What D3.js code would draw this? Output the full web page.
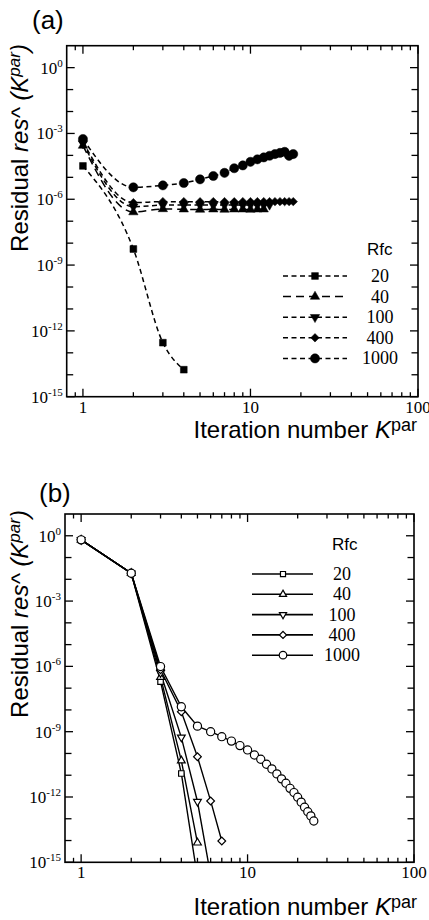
<!DOCTYPE html>
<html>
<head>
<meta charset="utf-8">
<script src="https://cdn.jsdelivr.net/npm/d3@7"></script>
<style>
  body { margin: 0; background: #fff; }
  svg { display: block; }
</style>
</head>
<body>
<svg id="chart" width="429" height="920"></svg>
<script>
// Residual vs. iteration number
const rfcLabels = ["20", "40", "100", "400", "1000"];
const xTickLabels = ["1", "10", "100"];
const yTickExps = ["0", "-3", "-6", "-9", "-12", "-15"];

// panel (a): dashed lines, filled markers
const aIter20 = [1, 2, 3, 4];
const aRes20 = [3.3e-5, 5.4e-9, 2.9e-13, 1.7e-14];
const aIter40 = [1, 2, 3, 4, 5, 6, 7, 8, 9, 10, 11, 12];
const aRes40 = [2.8e-4, 2.6e-7, 3.6e-7, 3.5e-7, 3.4e-7, 3.5e-7, 3.4e-7, 3.5e-7, 3.5e-7, 3.4e-7, 3.5e-7, 3.5e-7];
const aIter100 = [1, 2, 3, 4, 5, 6, 7, 8, 9, 10, 11, 12, 13];
const aRes100 = [3.5e-4, 4.6e-7, 5.4e-7, 5.5e-7, 5.5e-7, 5.4e-7, 5.5e-7, 5.5e-7, 5.4e-7, 5.5e-7, 5.5e-7, 5.5e-7, 5.6e-7];
const aIter400 = [1, 2, 3, 4, 5, 6, 7, 8, 9, 10, 11, 12, 13, 14, 15, 16, 17, 18];
const aRes400 = [4.2e-4, 7.0e-7, 7.8e-7, 7.8e-7, 7.7e-7, 7.8e-7, 7.8e-7, 7.7e-7, 7.8e-7, 7.8e-7, 7.8e-7, 7.8e-7, 7.8e-7, 7.8e-7, 7.8e-7, 7.8e-7, 7.8e-7, 7.8e-7];
const aIter1000 = [1, 2, 3, 4, 5, 6, 7, 8, 9, 10, 11, 12, 13, 14, 15, 16, 17, 18];
const aRes1000 = [5.6e-4, 3.5e-6, 4.3e-6, 5.5e-6, 8.1e-6, 1.15e-5, 1.6e-5, 2.6e-5, 3.5e-5, 5.1e-5, 6.6e-5, 8.1e-5, 9.6e-5, 1.15e-4, 1.3e-4, 1.45e-4, 9.5e-5, 1.15e-4];

// panel (b): solid lines, open markers
const bIter20 = [1, 2, 3, 4, 5];
const bRes20 = [0.65, 0.019, 2.0e-7, 1.2e-11, 2.0e-16];
const bIter40 = [1, 2, 3, 4, 5];
const bRes40 = [0.65, 0.019, 3.2e-7, 4.7e-11, 7.9e-15];
const bIter100 = [1, 2, 3, 4, 5, 6];
const bRes100 = [0.65, 0.019, 5.0e-7, 5.5e-10, 6.2e-13, 2.5e-16];
const bIter400 = [1, 2, 3, 4, 5, 6, 7];
const bRes400 = [0.65, 0.019, 7.0e-7, 8.3e-9, 7.0e-11, 6.6e-13, 9.5e-15];
const bIter1000 = [1, 2, 3, 4, 5, 6, 7, 8, 9, 10, 11, 12, 13, 14, 15, 16, 17, 18, 19, 20, 21, 22, 23, 24, 25];
const bRes1000 = [0.65, 0.019, 9.8e-7, 1.4e-8, 1.8e-9, 1.0e-9, 5.9e-10, 3.7e-10, 2.3e-10, 1.45e-10, 8.5e-11, 5.4e-11,
  3.2e-11, 1.95e-11, 1.15e-11, 6.8e-12, 4.3e-12, 2.5e-12, 1.6e-12, 9.8e-13, 5.8e-13, 3.4e-13, 2.1e-13, 1.35e-13, 7.9e-14];

const symbols = ["square", "triangle", "triangleDown", "diamond", "circle"];

const svg = d3.select("#chart");
svg.append("rect").attr("width", 429).attr("height", 920).attr("fill", "#fff");

const sans = "'Liberation Sans', Arial, sans-serif";
const serif = "'Liberation Serif', 'Times New Roman', serif";

function markerPath(kind, size) {
  if (kind === "circle") return d3.symbol(d3.symbolCircle, size)();
  if (kind === "square" || kind === "diamond") return d3.symbol(d3.symbolSquare, size)();
  return d3.symbol(d3.symbolTriangle, size)();
}
function markerRotate(kind) {
  if (kind === "diamond") return 45;
  if (kind === "triangleDown") return 180;
  return 0;
}
const markerSize = {
  filled: { square: 46, triangle: 38, triangleDown: 38, diamond: 36, circle: 66 },
  open: { square: 30, triangle: 26, triangleDown: 26, diamond: 30, circle: 52 }
};

function drawPanel(cfg) {
  const g = svg.append("g");
  const x = d3.scaleLog().domain([0.8, 100]).range([cfg.left, cfg.right]);
  const y = d3.scaleLog().domain([1e-15, 10]).range([cfg.bottom, cfg.top]);

  const clipId = "clip-" + cfg.name;
  svg.append("clipPath").attr("id", clipId)
    .append("rect")
    .attr("x", cfg.left).attr("y", cfg.top)
    .attr("width", cfg.right - cfg.left).attr("height", cfg.bottom - cfg.top);

  // ticks on all four sides
  const xMajor = [1, 10, 100];
  const xMinor = [0.9, 2, 3, 4, 5, 6, 7, 8, 9, 20, 30, 40, 50, 60, 70, 80, 90];
  const tickG = g.append("g").attr("stroke", "#000").attr("stroke-width", 1.3);
  xMajor.concat(xMinor).forEach(v => {
    const len = xMajor.includes(v) ? 8 : 4.5;
    const px = x(v);
    if (px > cfg.right + 0.5) return;
    tickG.append("line").attr("x1", px).attr("x2", px).attr("y1", cfg.bottom).attr("y2", cfg.bottom - len);
    tickG.append("line").attr("x1", px).attr("x2", px).attr("y1", cfg.top).attr("y2", cfg.top + len);
  });
  d3.range(-15, 1).forEach(e => {
    const len = e % 3 === 0 ? 8 : 6.5;
    const py = y(Math.pow(10, e));
    tickG.append("line").attr("x1", cfg.left).attr("x2", cfg.left + len).attr("y1", py).attr("y2", py);
    tickG.append("line").attr("x1", cfg.right).attr("x2", cfg.right - len).attr("y1", py).attr("y2", py);
  });

  // frame
  g.append("rect")
    .attr("x", cfg.left).attr("y", cfg.top)
    .attr("width", cfg.right - cfg.left).attr("height", cfg.bottom - cfg.top)
    .attr("fill", "none").attr("stroke", "#000").attr("stroke-width", 1.6);

  // tick labels
  xMajor.forEach((v, i) => {
    g.append("text")
      .attr("x", x(v)).attr("y", cfg.bottom + 16)
      .attr("text-anchor", "middle")
      .attr("font-family", serif).attr("font-size", 17)
      .text(xTickLabels[i]);
  });
  yTickExps.forEach(ex => {
    const t = g.append("text")
      .attr("x", cfg.left - 4).attr("y", y(Math.pow(10, +ex)) + 6)
      .attr("text-anchor", "end")
      .attr("font-family", serif).attr("font-size", 17);
    t.append("tspan").text("10");
    t.append("tspan").attr("dy", -7).attr("font-size", 11).text(ex);
  });

  // series
  const line = d3.line()
    .x(d => x(d[0])).y(d => y(d[1]))
    .curve(cfg.filled ? d3.curveMonotoneX : d3.curveLinear);
  const plot = g.append("g").attr("clip-path", `url(#${clipId})`);
  cfg.series.forEach((s, i) => {
    const pts = s.iter.map((k, j) => [k, s.res[j]]);
    plot.append("path")
      .attr("d", line(pts))
      .attr("fill", "none").attr("stroke", "#000")
      .attr("stroke-width", cfg.filled ? 1.5 : 1.4)
      .attr("stroke-dasharray", cfg.filled ? (i === 1 ? "8,5" : "5,3.5") : null);
  });
  cfg.series.forEach((s, i) => {
    const kind = symbols[i];
    const size = (cfg.filled ? markerSize.filled : markerSize.open)[kind];
    plot.selectAll(null)
      .data(s.iter.map((k, j) => [k, s.res[j]]))
      .enter().append("path")
      .attr("d", markerPath(kind, size))
      .attr("transform", d => `translate(${x(d[0])},${y(d[1])}) rotate(${markerRotate(kind)})`)
      .attr("fill", cfg.filled ? "#000" : "#fff")
      .attr("stroke", "#000")
      .attr("stroke-width", cfg.filled ? 0.5 : 1.2);
  });

  // legend
  const lg = g.append("g");
  lg.append("text")
    .attr("x", cfg.legend.titleX).attr("y", cfg.legend.titleY)
    .attr("font-family", sans).attr("font-size", 17)
    .text("Rfc");
  rfcLabels.forEach((lab, i) => {
    const ry = cfg.legend.rowY + i * cfg.legend.step;
    const kind = symbols[i];
    const size = (cfg.filled ? markerSize.filled : markerSize.open)[kind];
    lg.append("line")
      .attr("x1", cfg.legend.x1).attr("x2", cfg.legend.x2)
      .attr("y1", ry).attr("y2", ry)
      .attr("stroke", "#000").attr("stroke-width", cfg.filled ? 1.5 : 1.6)
      .attr("stroke-dasharray", cfg.filled ? (i === 1 ? "8,5" : "5,3.5") : null);
    lg.append("path")
      .attr("d", markerPath(kind, size * (cfg.filled ? 1 : 0.85)))
      .attr("transform", `translate(${cfg.legend.mx},${ry}) rotate(${markerRotate(kind)})`)
      .attr("fill", cfg.filled ? "#000" : "#fff")
      .attr("stroke", "#000").attr("stroke-width", cfg.filled ? 0.5 : 1.2);
    lg.append("text")
      .attr("x", cfg.legend.numX).attr("y", ry + 6)
      .attr("text-anchor", "middle")
      .attr("font-family", serif).attr("font-size", 18)
      .text(lab);
  });

  // panel tag and axis titles
  g.append("text")
    .attr("x", cfg.tagX).attr("y", cfg.tagY)
    .attr("font-family", sans).attr("font-size", 26)
    .text(cfg.tag);

  const yt = g.append("text")
    .attr("transform", `translate(${cfg.yTitleX},${cfg.yTitleY}) rotate(-90)`)
    .attr("text-anchor", "middle")
    .attr("font-family", sans).attr("font-size", 24);
  yt.append("tspan").text("Residual ");
  yt.append("tspan").attr("font-style", "italic").text("res^ (K");
  yt.append("tspan").attr("font-style", "italic").attr("font-size", 17).attr("dy", -8).text("par");
  yt.append("tspan").attr("font-style", "italic").attr("dy", 8).text(")");

  const xt = g.append("text")
    .attr("x", cfg.xTitleX).attr("y", cfg.xTitleY)
    .attr("text-anchor", "end")
    .attr("font-family", sans).attr("font-size", 24);
  xt.append("tspan").text("Iteration number ");
  xt.append("tspan").attr("font-style", "italic").text("K");
  xt.append("tspan").attr("font-size", 18).attr("dy", -7).text("par");
}

drawPanel({
  name: "a", tag: "(a)", filled: true,
  left: 66.7, right: 418, top: 45.7, bottom: 396.7,
  series: [
    { iter: aIter20, res: aRes20 },
    { iter: aIter40, res: aRes40 },
    { iter: aIter100, res: aRes100 },
    { iter: aIter400, res: aRes400 },
    { iter: aIter1000, res: aRes1000 }
  ],
  legend: { titleX: 367, titleY: 255, rowY: 276, step: 20.6, x1: 283, x2: 347, mx: 315, numX: 380 },
  tagX: 32, tagY: 29,
  yTitleX: 28, yTitleY: 148,
  xTitleX: 417, xTitleY: 438
});

drawPanel({
  name: "b", tag: "(b)", filled: false,
  left: 65, right: 414, top: 514, bottom: 862.3,
  series: [
    { iter: bIter20, res: bRes20 },
    { iter: bIter40, res: bRes40 },
    { iter: bIter100, res: bRes100 },
    { iter: bIter400, res: bRes400 },
    { iter: bIter1000, res: bRes1000 }
  ],
  legend: { titleX: 332, titleY: 550, rowY: 574, step: 20.3, x1: 252, x2: 313, mx: 283, numX: 342 },
  tagX: 39, tagY: 502,
  yTitleX: 28, yTitleY: 614,
  xTitleX: 417, xTitleY: 915
});
</script>
</body>
</html>
